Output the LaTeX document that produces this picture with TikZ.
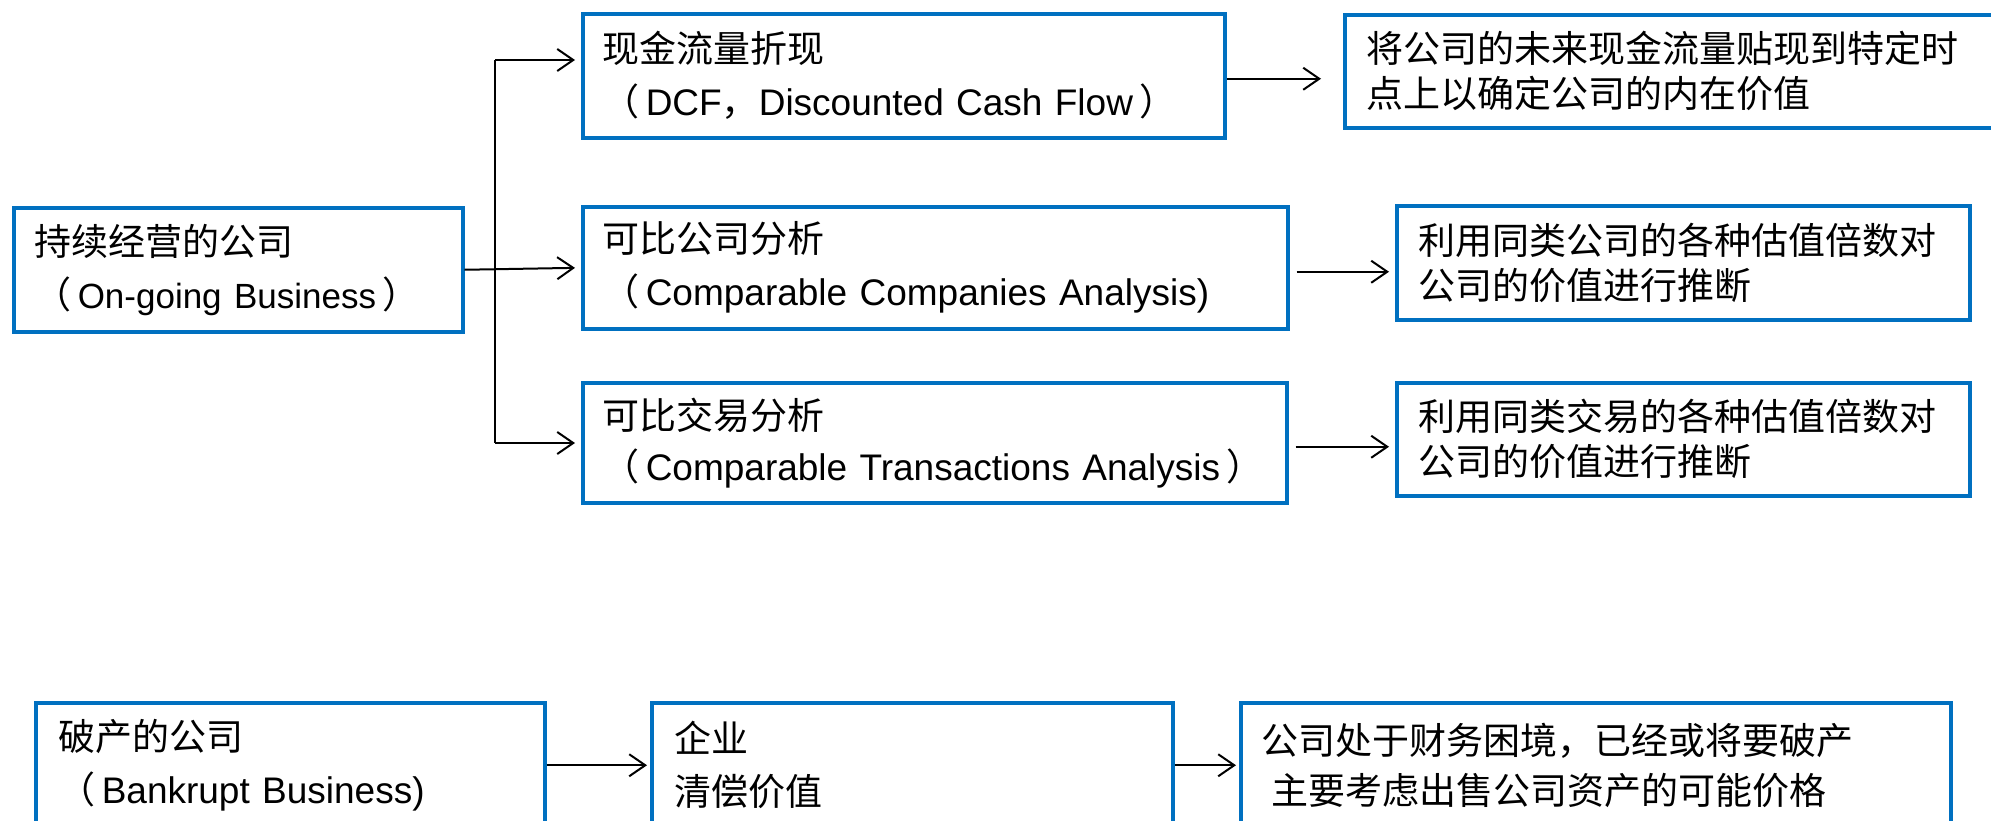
\documentclass[tikz,border=0pt]{standalone}
\usepackage{fontspec}
\setmainfont{Liberation Sans}
\newfontfamily\cjk{Noto Sans CJK SC}
\usetikzlibrary{arrows.meta}
\definecolor{boxblue}{RGB}{0,112,192}
\newcommand{\zh}[1]{{\cjk #1}}
\newcommand{\lp}{\zh{（}\hspace{6pt}}
\newcommand{\rp}{\hspace{6pt}\zh{）}}

\begin{document}
\begin{tikzpicture}[x=1pt,y=-1pt,
  box/.style={draw=boxblue, line width=3.5pt, rectangle, anchor=north west,
    align=left, inner ysep=0pt, font=\fontsize{37}{53}\selectfont},
  tight/.style={font=\fontsize{37}{45}\selectfont},
  conn/.style={draw=black, line width=2pt},
  arr/.style={conn, -{Straight Barb[length=16pt,width=22pt,line width=2pt]}}]

\useasboundingbox (0,0) rectangle (1991,820);
\clip (0,0) rectangle (1991,820);

% left column
\node[box, minimum width=449pt, minimum height=124pt, inner xsep=21pt, text width=407pt]
  (ongo) at (12,206) {\zh{持续经营的公司}\\\lp{\fontsize{35}{53}\selectfont On-going Business}\rp};

% middle column
\node[box, minimum width=642pt, minimum height=124pt, inner xsep=20pt, text width=602pt]
  (dcf) at (581,12) {\zh{现金流量折现}\\\lp DCF\zh{，}Discounted Cash Flow\rp};
\node[box, minimum width=705pt, minimum height=122pt, inner xsep=20pt, text width=665pt]
  (comp) at (581,205) {\zh{可比公司分析}\\\lp Comparable Companies Analysis)};
\node[box, minimum width=704pt, minimum height=120pt, inner xsep=20pt, text width=664pt,
  font=\fontsize{37}{51}\selectfont]
  (trans) at (581,381) {\zh{可比交易分析}\\\lp Comparable Transactions Analysis\rp};

% right column
\node[box, tight, minimum width=680pt, minimum height=113pt, inner xsep=22pt, text width=636pt]
  (r1) at (1343,13) {\zh{将公司的未来现金流量贴现到特定时}\\\zh{点上以确定公司的内在价值}};
\node[box, tight, minimum width=573pt, minimum height=114pt, inner xsep=22pt, text width=529pt]
  (r2) at (1395,204) {\zh{利用同类公司的各种估值倍数对}\\\zh{公司的价值进行推断}};
\node[box, tight, minimum width=573pt, minimum height=113pt, inner xsep=22pt, text width=529pt]
  (r3) at (1395,381) {\zh{利用同类交易的各种估值倍数对}\\\zh{公司的价值进行推断}};

% bottom row
\node[box, minimum width=509pt, minimum height=125pt, inner xsep=23pt, text width=463pt]
  (b1) at (34,701) {\zh{破产的公司}\\\lp Bankrupt Business)};
\node[box, minimum width=521pt, minimum height=125pt, inner xsep=23pt, text width=475pt]
  (b2) at (650,701) {\zh{企业}\\\zh{清偿价值}};
\node[box, minimum width=710pt, minimum height=125pt, inner xsep=21pt, text width=668pt,
  font=\fontsize{37}{50}\selectfont]
  (b3) at (1239,701) {\zh{公司处于财务困境，已经或将要破产}\\\hspace*{10pt}\zh{主要考虑出售公司资产的可能价格}};

% connectors
\coordinate (jt) at (495,60);
\coordinate (jb) at (495,443);
\draw[conn] (jt) -- (jb);
\draw[arr, shorten >=6pt] (jt) -- (jt -| dcf.west);
\draw[arr, shorten >=6pt] (ongo.east) -- (comp.west);
\draw[arr, shorten >=6pt] (jb) -- (jb -| trans.west);

\draw[arr, shorten >=22pt] ([yshift=-3pt]dcf.east) -- ([yshift=-3pt]dcf.east -| r1.west);
\draw[arr, shorten <=7pt, shorten >=6pt] ([yshift=-4pt]comp.east) -- ([yshift=-4pt]comp.east -| r2.west);
\draw[arr, shorten <=7pt, shorten >=6pt] ([yshift=-4pt]trans.east) -- ([yshift=-4pt]trans.east -| r3.west);

\draw[arr, shorten >=3pt] (b1.east) -- (b2.west);
\draw[arr, shorten >=3pt] (b2.east) -- (b3.west);
\end{tikzpicture}
\end{document}
